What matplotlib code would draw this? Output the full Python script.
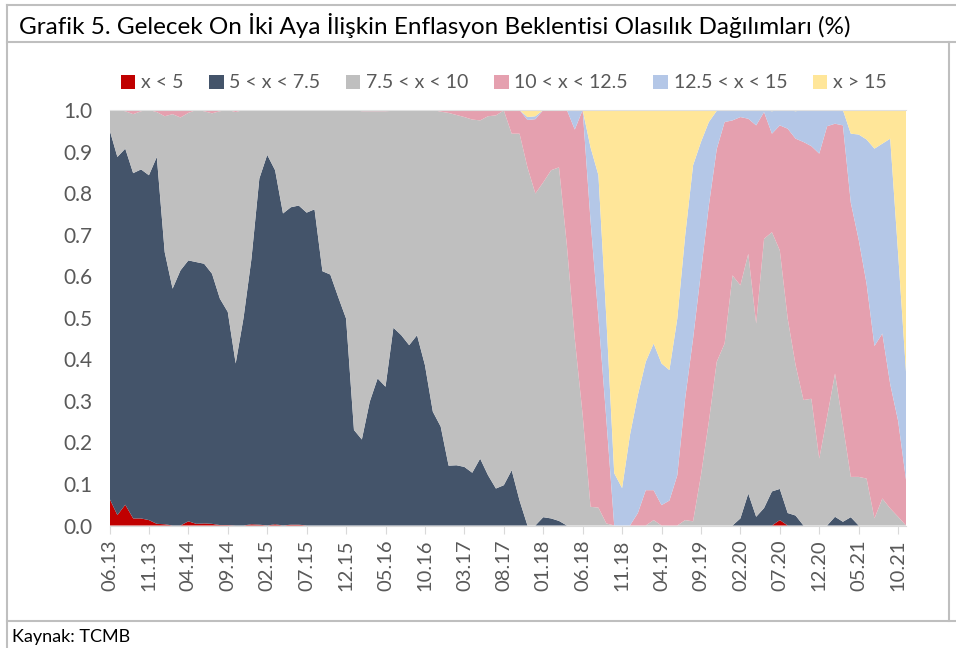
import matplotlib
matplotlib.use("Agg")
import matplotlib.pyplot as plt
from matplotlib.lines import Line2D
import numpy as np

# monthly observations 06.13 .. 11.21
months = []
for y in range(13, 22):
    for m in range(1, 13):
        if (y == 13 and m < 6) or (y == 21 and m > 11):
            continue
        months.append("%02d.%02d" % (m, y))

lt5 = [0.065, 0.025, 0.05, 0.017, 0.017, 0.013, 0.004, 0.003, 0, 0,
       0.01, 0.004, 0.005, 0.004, 0.001, 0.001, 0, 0, 0.003, 0.002,
       0, 0.003, 0, 0.002, 0.002, 0, 0, 0, 0, 0,
       0, 0, 0, 0, 0, 0, 0, 0, 0, 0,
       0, 0, 0, 0, 0, 0, 0, 0, 0, 0,
       0, 0, 0, 0, 0, 0, 0, 0, 0, 0,
       0, 0, 0, 0, 0, 0, 0, 0, 0, 0,
       0, 0, 0, 0, 0, 0, 0, 0, 0, 0,
       0, 0, 0, 0, 0, 0.013, 0, 0, 0, 0,
       0, 0, 0, 0, 0, 0, 0, 0, 0, 0,
       0, 0]

r5_75 = [0.888, 0.862, 0.857, 0.831, 0.840, 0.830, 0.883, 0.655, 0.570, 0.614,
         0.628, 0.630, 0.625, 0.602, 0.545, 0.513, 0.390, 0.500, 0.639, 0.833,
         0.892, 0.852, 0.751, 0.764, 0.768, 0.753, 0.761, 0.612, 0.604, 0.550,
         0.498, 0.230, 0.207, 0.298, 0.354, 0.334, 0.476, 0.458, 0.434, 0.458,
         0.386, 0.274, 0.238, 0.144, 0.145, 0.141, 0.127, 0.161, 0.121, 0.089,
         0.097, 0.133, 0.060, 0, 0, 0.020, 0.017, 0.011, 0, 0,
         0, 0, 0, 0, 0, 0, 0, 0, 0, 0,
         0, 0, 0, 0, 0, 0, 0, 0, 0, 0,
         0.017, 0.077, 0.021, 0.042, 0.082, 0.075, 0.030, 0.024, 0, 0,
         0, 0, 0.021, 0.009, 0.020, 0, 0, 0, 0, 0,
         0, 0]

r75_10 = [0.047, 0.113, 0.090, 0.142, 0.140, 0.157, 0.108, 0.327, 0.420, 0.368,
          0.355, 0.366, 0.367, 0.386, 0.451, 0.486, 0.605, 0.500, 0.358, 0.165,
          0.108, 0.145, 0.249, 0.234, 0.230, 0.247, 0.239, 0.388, 0.396, 0.450,
          0.502, 0.770, 0.790, 0.699, 0.643, 0.663, 0.522, 0.542, 0.566, 0.542,
          0.614, 0.726, 0.758, 0.849, 0.843, 0.842, 0.850, 0.814, 0.864, 0.898,
          0.902, 0.810, 0.883, 0.862, 0.799, 0.806, 0.838, 0.851, 0.674, 0.450,
          0.266, 0.045, 0.043, 0.005, 0, 0, 0, 0, 0, 0.013,
          0, 0, 0, 0.013, 0.010, 0.121, 0.250, 0.394, 0.438, 0.602,
          0.561, 0.577, 0.465, 0.648, 0.624, 0.574, 0.468, 0.362, 0.302, 0.305,
          0.161, 0.262, 0.345, 0.233, 0.097, 0.117, 0.113, 0.017, 0.065, 0.041,
          0.021, 0]

r10_125 = [0, 0, 0.003, 0.010, 0.003, 0, 0.005, 0.015, 0.010, 0.018,
           0.007, 0, 0.003, 0.008, 0.003, 0, 0.005, 0, 0, 0,
           0, 0, 0, 0, 0, 0, 0, 0, 0, 0,
           0, 0, 0.003, 0.003, 0.003, 0.003, 0.002, 0, 0, 0,
           0, 0, 0.004, 0.007, 0.012, 0.017, 0.023, 0.025, 0.015, 0.013,
           0.001, 0.057, 0.057, 0.114, 0.179, 0.174, 0.145, 0.138, 0.326, 0.503,
           0.734, 0.688, 0.457, 0.251, 0, 0, 0, 0.030, 0.085, 0.072,
           0.049, 0.060, 0.121, 0.293, 0.440, 0.489, 0.520, 0.512, 0.533, 0.373,
           0.405, 0.325, 0.477, 0.305, 0.237, 0.301, 0.457, 0.545, 0.621, 0.608,
           0.734, 0.699, 0.601, 0.721, 0.660, 0.571, 0.469, 0.415, 0.397, 0.299,
           0.231, 0.110]

r125_15 = [0, 0, 0, 0, 0, 0, 0, 0, 0, 0,
           0, 0, 0, 0, 0, 0, 0, 0, 0, 0,
           0, 0, 0, 0, 0, 0, 0, 0, 0, 0,
           0, 0, 0, 0, 0, 0, 0, 0, 0, 0,
           0, 0, 0, 0, 0, 0, 0, 0, 0, 0,
           0, 0, 0, 0.007, 0.007, 0, 0, 0, 0, 0.047,
           0, 0.177, 0.343, 0.244, 0.126, 0.090, 0.218, 0.284, 0.309, 0.353,
           0.341, 0.314, 0.377, 0.392, 0.417, 0.313, 0.201, 0.092, 0.029, 0.025,
           0.017, 0.021, 0.037, 0.005, 0.054, 0.037, 0.045, 0.066, 0.077, 0.087,
           0.105, 0.039, 0.033, 0.037, 0.166, 0.253, 0.347, 0.475, 0.457, 0.591,
           0.403, 0.260]

gt15 = [0, 0, 0, 0, 0, 0, 0, 0, 0, 0,
        0, 0, 0, 0, 0, 0, 0, 0, 0, 0,
        0, 0, 0, 0, 0, 0, 0, 0, 0, 0,
        0, 0, 0, 0, 0, 0, 0, 0, 0, 0,
        0, 0, 0, 0, 0, 0, 0, 0, 0, 0,
        0, 0, 0, 0.017, 0.015, 0, 0, 0, 0, 0,
        0, 0.090, 0.157, 0.500, 0.874, 0.910, 0.782, 0.686, 0.606, 0.562,
        0.610, 0.626, 0.502, 0.302, 0.133, 0.077, 0.029, 0.002, 0, 0,
        0, 0, 0, 0, 0.003, 0, 0, 0.003, 0, 0,
        0, 0, 0, 0, 0.057, 0.059, 0.071, 0.093, 0.081, 0.069,
        0.345, 0.630]

labels = ["x < 5", "5 < x < 7.5", "7.5 < x < 10", "10 < x < 12.5", "12.5 < x < 15", "x > 15"]
colors = ["#C00000", "#44546A", "#BFBFBF", "#E5A0AF", "#B4C7E7", "#FFE699"]

plt.rcParams['font.family'] = ['Lato', 'DejaVu Sans']
txt = "#595959"
frame = "#BFBFBF"

fig = plt.figure(figsize=(9.56, 6.48), dpi=100)
ax = fig.add_axes([109.5/956, 1-525.5/648, (906-109.5)/956, (525.5-110)/648])

x = np.arange(len(months))
polys = ax.stackplot(x, lt5, r5_75, r75_10, r10_125, r125_15, gt15,
                     colors=colors, labels=labels, linewidth=0)

ax.set_xlim(0, len(months)-1)
ax.set_ylim(0, 1)
ax.set_yticks(np.arange(0, 1.01, 0.1))
ax.set_yticklabels(["%.1f" % v for v in np.arange(0, 1.01, 0.1)])
ax.set_xticks(x[::5])
ax.set_xticklabels(months[::5], rotation=90)
ax.tick_params(axis='y', length=0, labelsize=15, labelcolor=txt, pad=12)
ax.tick_params(axis='x', length=6, color="#D9D9D9", labelsize=14.5, labelcolor=txt, pad=4)
for s in ['left', 'right']:
    ax.spines[s].set_visible(False)
ax.spines['top'].set_color("#E0E0E0")
ax.spines['bottom'].set_color("#D9D9D9")

fig.legend(handles=polys, labels=labels, loc='center', bbox_to_anchor=(0.527, 1-83/648),
           ncol=6, frameon=False, fontsize=14, labelcolor=txt,
           handlelength=0.75, handleheight=0.75, handletextpad=0.3, columnspacing=1.3)

fig.text(19/956, 1-25/648, "Grafik 5. Gelecek On İki Aya İlişkin Enflasyon Beklentisi Olasılık Dağılımları (%)",
         fontsize=17.5, va='center', ha='left', color="black")
fig.text(12/956, 1-637/648, "Kaynak: TCMB", fontsize=13, va='center', ha='left', color="black")

# box lines
def hline(y, x0=7, x1=956):
    fig.add_artist(Line2D([x0/956, x1/956], [1-y/648, 1-y/648], color=frame, lw=1.5))

hline(5)
hline(42)
hline(621)
fig.add_artist(Line2D([7/956, 7/956], [1-5/648, 0], color=frame, lw=1.5))
fig.add_artist(Line2D([949/956, 949/956], [1-42/648, 1-621/648], color=frame, lw=1.5))

fig.savefig("out.png", dpi=100)
